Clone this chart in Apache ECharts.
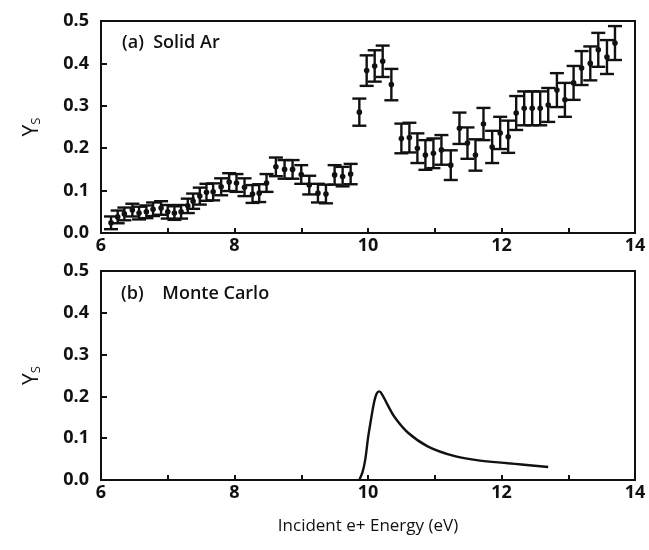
<!DOCTYPE html>
<html>
<head>
<meta charset="utf-8">
<script src="https://cdn.jsdelivr.net/npm/echarts@6/dist/echarts.min.js"></script>
<style>html,body{margin:0;padding:0;background:#fff}#c{width:649px;height:550px}</style>
</head>
<body>
<div id="c"></div>
<script>
// Panel (a): Solid Ar measured yield with error bars
const energyA = [6.15, 6.25, 6.35, 6.47, 6.57, 6.68, 6.78, 6.9, 7.0, 7.1, 7.2, 7.3, 7.38, 7.48, 7.58, 7.68, 7.8, 7.92, 8.03, 8.15, 8.27, 8.37, 8.48, 8.62, 8.75, 8.87, 9.0, 9.12, 9.25, 9.37, 9.5, 9.62, 9.74, 9.87, 9.98, 10.1, 10.22, 10.35, 10.5, 10.62, 10.74, 10.86, 10.98, 11.1, 11.24, 11.37, 11.49, 11.61, 11.73, 11.86, 11.98, 12.1, 12.22, 12.34, 12.46, 12.58, 12.7, 12.83, 12.95, 13.08, 13.2, 13.33, 13.45, 13.58, 13.7];
const yieldA = [0.024, 0.038, 0.045, 0.054, 0.047, 0.05, 0.056, 0.059, 0.05, 0.047, 0.05, 0.064, 0.075, 0.087, 0.096, 0.097, 0.109, 0.12, 0.118, 0.108, 0.092, 0.094, 0.118, 0.156, 0.15, 0.15, 0.138, 0.113, 0.094, 0.092, 0.137, 0.133, 0.139, 0.285, 0.383, 0.394, 0.405, 0.35, 0.223, 0.225, 0.2, 0.184, 0.188, 0.196, 0.16, 0.247, 0.212, 0.184, 0.257, 0.203, 0.236, 0.227, 0.283, 0.294, 0.294, 0.294, 0.302, 0.337, 0.314, 0.354, 0.389, 0.4, 0.432, 0.415, 0.448];
const errA = [0.015, 0.015, 0.015, 0.015, 0.015, 0.015, 0.016, 0.016, 0.016, 0.016, 0.016, 0.017, 0.018, 0.02, 0.02, 0.02, 0.02, 0.021, 0.021, 0.021, 0.021, 0.021, 0.021, 0.022, 0.022, 0.022, 0.022, 0.022, 0.022, 0.022, 0.023, 0.023, 0.024, 0.032, 0.036, 0.037, 0.037, 0.037, 0.035, 0.035, 0.035, 0.035, 0.035, 0.035, 0.035, 0.037, 0.037, 0.037, 0.038, 0.038, 0.038, 0.038, 0.04, 0.04, 0.04, 0.04, 0.04, 0.04, 0.04, 0.04, 0.04, 0.04, 0.04, 0.04, 0.04];

// Panel (b): Monte Carlo curve
const energyB = [9.87, 9.92, 9.96, 10.0, 10.04, 10.09, 10.13, 10.17, 10.21, 10.28, 10.4, 10.6, 10.9, 11.3, 11.65, 12.1, 12.3, 12.7];
const yieldB = [0.0, 0.02, 0.05, 0.1, 0.14, 0.185, 0.207, 0.212, 0.205, 0.184, 0.15, 0.113, 0.08, 0.057, 0.047, 0.04, 0.037, 0.031];

const xTicks = [6, 8, 10, 12, 14];
const yTicks = [0.0, 0.1, 0.2, 0.3, 0.4, 0.5];
const labelA = '(a)  Solid Ar';
const labelB = '(b)    Monte Carlo';
const xTitle = 'Incident e+ Energy (eV)';

const FONT = 'Open Sans';
const INK = '#111';

function xAxisCfg(gridIndex, withName) {
  const c = {
    type: 'value', gridIndex, min: 6, max: 14, interval: 1,
    axisLine: { show: true, lineStyle: { color: INK, width: 2 } },
    axisTick: { show: true, inside: true, length: 5, lineStyle: { color: INK, width: 2 } },
    splitLine: { show: false },
    axisLabel: {
      color: INK, fontFamily: FONT, fontSize: 18, fontWeight: 'bold', margin: 4,
      formatter: v => (xTicks.indexOf(v) >= 0 ? String(v) : '')
    }
  };
  if (withName) {
    c.name = xTitle; c.nameLocation = 'middle'; c.nameGap = 38;
    c.nameTextStyle = { color: INK, fontFamily: FONT, fontSize: 17, fontWeight: 'normal' };
  }
  return c;
}
function yAxisCfg(gridIndex) {
  return {
    type: 'value', gridIndex, min: 0, max: 0.5, interval: 0.1,
    axisLine: { show: true, lineStyle: { color: INK, width: 2 } },
    axisTick: { show: true, inside: true, length: 6, lineStyle: { color: INK, width: 2 } },
    splitLine: { show: false },
    axisLabel: {
      color: INK, fontFamily: FONT, fontSize: 18, fontWeight: 'bold', margin: 12,
      formatter: v => { const t = yTicks.find(k => Math.abs(k - v) < 1e-9); return t === undefined ? '' : t.toFixed(1); }
    },
    name: 'Y{s|S}', nameLocation: 'middle', nameRotate: 90, nameGap: 58,
    nameTextStyle: { color: INK, fontFamily: FONT, fontSize: 21, rich: { s: { fontSize: 13, verticalAlign: 'bottom', padding: [9, 0, 0, 0], fontFamily: FONT, color: INK } } }
  };
}

const errData = energyA.map((e, i) => [e, yieldA[i], errA[i]]);
const curveData = energyB.map((e, i) => [e, yieldB[i]]);

function renderErr(params, api) {
  const x = api.value(0), y = api.value(1), e = api.value(2);
  const p = api.coord([x, y]);
  const hi = api.coord([x, y + e]);
  const lo = api.coord([x, y - e]);
  const hw = 7;
  const st = { stroke: INK, lineWidth: 2.4, fill: null };
  return {
    type: 'group',
    children: [
      { type: 'line', shape: { x1: p[0], y1: hi[1], x2: p[0], y2: lo[1] }, style: st },
      { type: 'line', shape: { x1: p[0] - hw, y1: hi[1], x2: p[0] + hw, y2: hi[1] }, style: st },
      { type: 'line', shape: { x1: p[0] - hw, y1: lo[1], x2: p[0] + hw, y2: lo[1] }, style: st },
      { type: 'circle', shape: { cx: p[0], cy: p[1], r: 2.8 }, style: { fill: INK } }
    ]
  };
}

const chart = echarts.init(document.getElementById('c'), null, { renderer: 'canvas' });
chart.setOption({
  backgroundColor: '#fff',
  animation: false,
  grid: [
    { left: 101, top: 21, width: 534, height: 212, show: true, borderColor: INK, borderWidth: 2, backgroundColor: 'transparent' },
    { left: 101, top: 271, width: 534, height: 209, show: true, borderColor: INK, borderWidth: 2, backgroundColor: 'transparent' }
  ],
  xAxis: [xAxisCfg(0, false), xAxisCfg(1, true)],
  yAxis: [yAxisCfg(0), yAxisCfg(1)],
  graphic: [
    { type: 'text', left: 122, top: 34, style: { text: labelA, fontFamily: FONT, fontSize: 18, fontWeight: 600, fill: INK } },
    { type: 'text', left: 121, top: 285, style: { text: labelB, fontFamily: FONT, fontSize: 18, fontWeight: 600, fill: INK } }
  ],
  series: [
    { type: 'custom', xAxisIndex: 0, yAxisIndex: 0, data: errData, renderItem: renderErr, encode: { x: 0, y: 1 }, clip: false },
    { type: 'line', xAxisIndex: 1, yAxisIndex: 1, data: curveData, smooth: 0.35, showSymbol: false, lineStyle: { color: INK, width: 2.4 } }
  ]
});
</script>
</body>
</html>
